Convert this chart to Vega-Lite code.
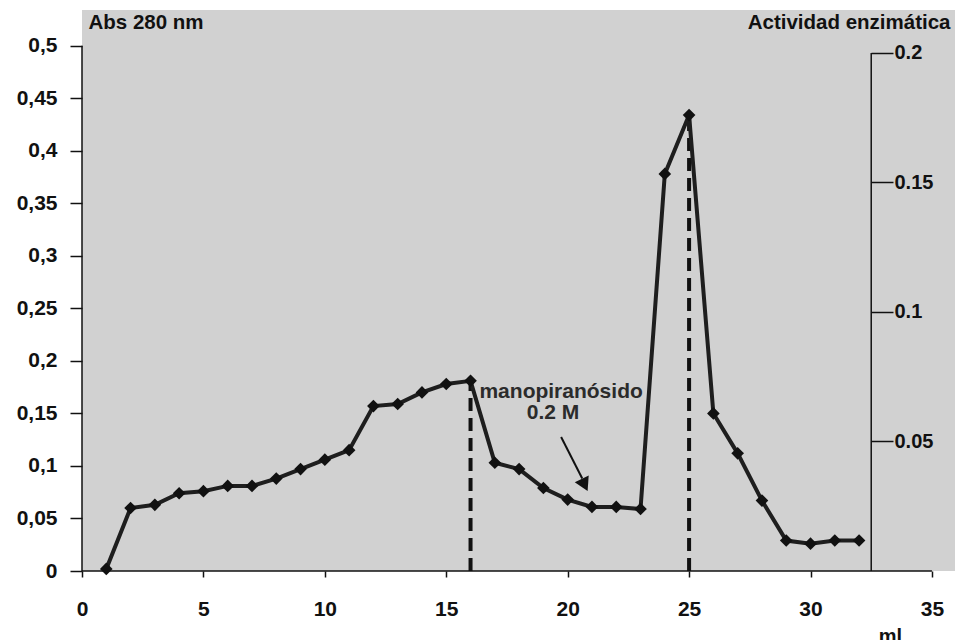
{
  "$schema": "https://vega.github.io/schema/vega-lite/v6.json",
  "autosize": {"type": "none"},
  "width": 873,
  "height": 561,
  "padding": {"left": 82, "top": 10, "right": 0, "bottom": 69},
  "background": "white",
  "config": {
    "view": {"fill": "#d1d1d1", "stroke": null},
    "font": "Liberation Sans",
    "axis": {
      "grid": false,
      "labelFont": "Liberation Sans",
      "labelFontWeight": "bold",
      "labelFontSize": 21,
      "labelColor": "#111111",
      "titleFont": "Liberation Sans",
      "titleFontWeight": "bold",
      "titleFontSize": 20.5,
      "titleColor": "#111111",
      "tickColor": "#111111",
      "tickWidth": 1.5,
      "labelFlush": false,
      "labelOverlap": false
    }
  },
  "datasets": {
    "abs": [
      {"x": 1, "y": 0.002}, {"x": 2, "y": 0.060}, {"x": 3, "y": 0.063}, {"x": 4, "y": 0.074},
      {"x": 5, "y": 0.076}, {"x": 6, "y": 0.081}, {"x": 7, "y": 0.081}, {"x": 8, "y": 0.088},
      {"x": 9, "y": 0.097}, {"x": 10, "y": 0.106}, {"x": 11, "y": 0.115}, {"x": 12, "y": 0.157},
      {"x": 13, "y": 0.159}, {"x": 14, "y": 0.170}, {"x": 15, "y": 0.178}, {"x": 16, "y": 0.181},
      {"x": 17, "y": 0.103}, {"x": 18, "y": 0.097}, {"x": 19, "y": 0.079}, {"x": 20, "y": 0.068},
      {"x": 21, "y": 0.061}, {"x": 22, "y": 0.061}, {"x": 23, "y": 0.059}, {"x": 24, "y": 0.378},
      {"x": 25, "y": 0.434}, {"x": 26, "y": 0.150}, {"x": 27, "y": 0.112}, {"x": 28, "y": 0.067},
      {"x": 29, "y": 0.029}, {"x": 30, "y": 0.026}, {"x": 31, "y": 0.029}, {"x": 32, "y": 0.029}
    ],
    "axes": [
      {"x": 0, "y": 0, "x2": 0, "y2": 0.5},
      {"x": 0, "y": 0, "x2": 35, "y2": 0}
    ],
    "drops": [
      {"x": 16, "y": 0, "y2": 0.178},
      {"x": 25, "y": 0, "y2": 0.43}
    ],
    "labels": [
      {"x": 19.73, "y": 0.1705, "label": "manopiranósido"},
      {"x": 19.4, "y": 0.150, "label": "0.2 M"}
    ],
    "arrow": [
      {"x": 19.73, "y": 0.1276, "x2": 20.6, "y2": 0.088}
    ],
    "arrowhead": [
      {"x": 20.7, "y": 0.082}
    ],
    "activity": [
      {"x": 32.5, "y": 0, "y2": 0.2}
    ]
  },
  "layer": [
    {
      "encoding": {
        "x": {
          "field": "x",
          "type": "quantitative",
          "scale": {"domain": [0, 35.95], "nice": false, "zero": false},
          "axis": {
            "orient": "bottom",
            "values": [0, 5, 10, 15, 20, 25, 30, 35],
            "domain": false,
            "tickSize": 6,
            "labelBaseline": "alphabetic",
            "labelPadding": 38,
            "title": "ml",
            "titleFontSize": 20,
            "titleX": 808,
            "titleY": 71,
            "titleAnchor": null,
            "titleAlign": "center",
            "titleBaseline": "alphabetic"
          }
        },
        "y": {
          "field": "y",
          "type": "quantitative",
          "scale": {"domain": [0, 0.534], "nice": false, "zero": false},
          "axis": {
            "orient": "left",
            "values": [0, 0.05, 0.1, 0.15, 0.2, 0.25, 0.3, 0.35, 0.4, 0.45, 0.5],
            "labelExpr": "replace(format(datum.value, '~g'), '.', ',')",
            "domain": false,
            "tickSize": 12,
            "labelPadding": 13,
            "title": "Abs 280 nm",
            "titleAngle": 0,
            "titleAnchor": null,
            "titleAlign": "left",
            "titleBaseline": "middle",
            "titleX": 6,
            "titleY": 12
          }
        }
      },
      "layer": [
        {
          "data": {"name": "axes"},
          "mark": {"type": "rule", "color": "#111111", "strokeWidth": 1.5},
          "encoding": {
            "x2": {"field": "x2"},
            "y2": {"field": "y2"}
          }
        },
        {
          "data": {"name": "drops"},
          "mark": {"type": "rule", "color": "#111111", "strokeWidth": 4, "strokeDash": [13, 7]},
          "encoding": {
            "y2": {"field": "y2"}
          }
        },
        {
          "data": {"name": "abs"},
          "mark": {"type": "line", "color": "#1e1e1e", "strokeWidth": 4}
        },
        {
          "data": {"name": "abs"},
          "mark": {"type": "point", "shape": "diamond", "filled": true, "size": 160, "color": "#111111", "opacity": 1}
        },
        {
          "data": {"name": "labels"},
          "mark": {"type": "text", "font": "Liberation Sans", "fontWeight": "bold", "fontSize": 21, "color": "#2b2b2b", "align": "center", "baseline": "middle"},
          "encoding": {
            "text": {"field": "label"}
          }
        },
        {
          "data": {"name": "arrow"},
          "mark": {"type": "rule", "color": "#111111", "strokeWidth": 2},
          "encoding": {
            "x2": {"field": "x2"},
            "y2": {"field": "y2"}
          }
        },
        {
          "data": {"name": "arrowhead"},
          "mark": {"type": "point", "shape": "triangle-down", "filled": true, "size": 240, "color": "#111111", "angle": -26, "opacity": 1}
        }
      ]
    },
    {
      "data": {"name": "activity"},
      "mark": {"type": "rule", "color": "#111111", "strokeWidth": 1.5},
      "encoding": {
        "x": {
          "field": "x",
          "type": "quantitative",
          "scale": {"domain": [0, 35.95], "nice": false, "zero": false}
        },
        "y": {
          "field": "y",
          "type": "quantitative",
          "scale": {"domain": [0, 0.2166], "nice": false, "zero": false},
          "axis": {
            "orient": "right",
            "offset": -84,
            "values": [0.05, 0.1, 0.15, 0.2],
            "labelExpr": "format(datum.value, '~g')",
            "domain": false,
            "tickSize": 22,
            "labelPadding": 1,
            "labelFontSize": 20,
            "title": "Actividad enzimática",
            "titleAngle": 0,
            "titleAnchor": null,
            "titleAlign": "right",
            "titleBaseline": "middle",
            "titleX": 79,
            "titleY": 12
          }
        },
        "y2": {"field": "y2"}
      }
    }
  ],
  "resolve": {"scale": {"y": "independent"}}
}
